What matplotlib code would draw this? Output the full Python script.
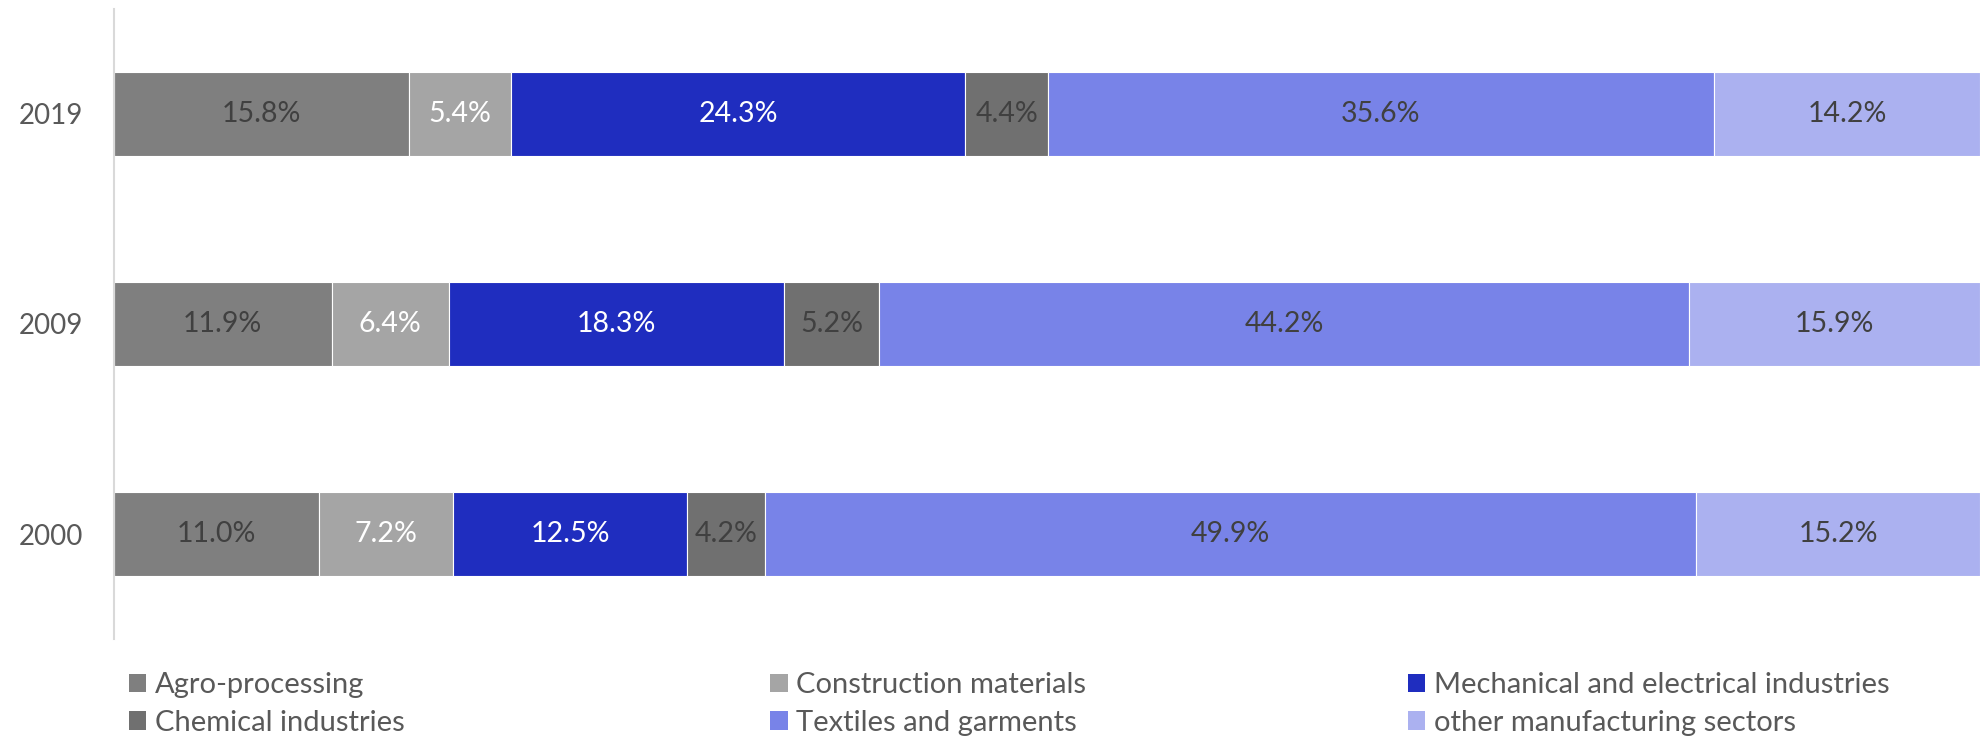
import numpy as np
import matplotlib
matplotlib.use("Agg")
import matplotlib.pyplot as plt
from matplotlib.patches import Patch

plt.rcParams['font.family'] = ['Lato', 'DejaVu Sans']

years = ['2019', '2009', '2000']
sectors = ['Agro-processing', 'Construction materials', 'Mechanical and electrical industries',
           'Chemical industries', 'Textiles and garments', 'other manufacturing sectors']
agro = [15.8, 11.9, 11.0]
construction = [5.4, 6.4, 7.2]
mechanical = [24.3, 18.3, 12.5]
chemical = [4.4, 5.2, 4.2]
textiles = [35.6, 44.2, 49.9]
other = [14.2, 15.9, 15.2]

colors = ['#7f7f7f', '#a5a5a5', '#1f2dbf', '#707070', '#7883e8', '#abb1f0']
label_colors = ['#404040', 'white', 'white', '#404040', '#404040', '#404040']

series = [agro, construction, mechanical, chemical, textiles, other]
vals = np.array(series)
# 100% stacked: each year normalised to its own total
shares = vals / vals.sum(axis=0) * 100

fig = plt.figure(figsize=(19.8, 7.38), dpi=100)
ax = fig.add_axes([0.0574, 0.134, 0.9426, 0.854])

ypos = np.arange(len(years))
left = np.zeros(len(years))
for i, name in enumerate(sectors):
    bars = ax.barh(ypos, shares[i], left=left, height=0.4, color=colors[i],
                   edgecolor='white', linewidth=0.8, label=name)
    for j, b in enumerate(bars):
        ax.text(left[j] + shares[i][j] / 2, ypos[j], f'{vals[i][j]:.1f}%',
                ha='center', va='center', fontsize=20.5, color=label_colors[i])
    left += shares[i]

ax.set_xlim(0, 100)
ax.set_ylim(2.5, -0.5)
ax.set_yticks(ypos)
ax.set_yticklabels(years, fontsize=20, color='#595959')
ax.tick_params(axis='y', length=0, pad=22)
ax.set_xticks([])
for s in ['top', 'right', 'bottom']:
    ax.spines[s].set_visible(False)
ax.spines['left'].set_color('#d9d9d9')
ax.spines['left'].set_linewidth(1.5)

handles = [Patch(facecolor=c) for c in colors]
col_x = [0.065, 0.389, 0.711]
for k in range(3):
    idx = [k, k + 3]
    fig.legend([handles[n] for n in idx], [sectors[n] for n in idx],
               loc='center left', bbox_to_anchor=(col_x[k], 0.046), frameon=False,
               fontsize=21, handlelength=0.6, handleheight=0.6, handletextpad=0.3,
               labelspacing=0.4, labelcolor='#595959', borderaxespad=0, borderpad=0)

fig.savefig('out.png', dpi=100)
